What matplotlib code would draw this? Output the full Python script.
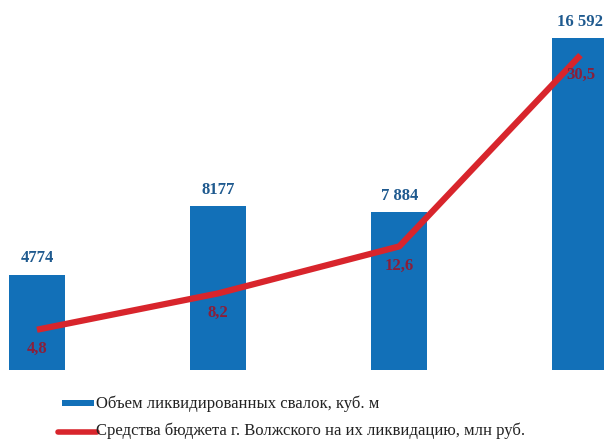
import matplotlib.pyplot as plt
from matplotlib.patches import Rectangle
from matplotlib.lines import Line2D

plt.rcParams['font.family'] = ['Liberation Serif', 'DejaVu Serif']

# объемы и затраты по годам
periods = ['1', '2', '3', '4']
volume = [4774, 8177, 7884, 16592]
volume_labels = ['4774', '8177', '7 884', '16 592']
budget = [4.8, 8.2, 12.6, 30.5]
budget_labels = ['4,8', '8,2', '12,6', '30,5']
legend_labels = ['Объем ликвидированных свалок, куб. м',
                 'Средства бюджета г. Волжского на их ликвидацию, млн руб.']

bar_color = '#1270b8'
line_color = '#d8252c'

W, H = 604, 440
fig = plt.figure(figsize=(W / 100, H / 100), dpi=100)
ax = fig.add_axes([0, 70 / H, 1, 370 / H])
ax2 = ax.twinx()

x = list(range(len(periods)))
ax.bar(x, volume, width=0.31, color=bar_color, zorder=1)
for xi, v, lab in zip(x, volume, volume_labels):
    ax.annotate(lab, (xi, v), xytext=(0, 6), textcoords='offset points',
                ha='center', va='bottom', fontsize=12, fontweight='bold',
                color='#1f5a8f')

ax2.plot(x, budget, color=line_color, linewidth=4.5, solid_capstyle='butt', zorder=3)
for xi, v, lab in zip(x, budget, budget_labels):
    ax2.annotate(lab, (xi, v), xytext=(0, -14), textcoords='offset points',
                 ha='center', va='center', fontsize=12, fontweight='bold',
                 color='#8a1f3a')

ax.set_xlim(-0.204, 3.13)
ax.set_ylim(0, 18500)
ax2.set_ylim(1.03, 35.66)
for a in (ax, ax2):
    a.axis('off')
ax.set_zorder(1)
ax2.set_zorder(2)
ax2.patch.set_visible(False)

# легенда снизу, вручную в координатах фигуры
fig.add_artist(Rectangle((62 / W, 1 - 406 / H), 32 / W, 6 / H,
                         transform=fig.transFigure, facecolor=bar_color,
                         edgecolor='none'))
fig.add_artist(Line2D([58 / W, 97 / W], [1 - 432 / H, 1 - 432 / H],
                      transform=fig.transFigure, color=line_color,
                      linewidth=4, solid_capstyle='round'))
fig.text(96 / W, 1 - 404 / H, legend_labels[0], fontsize=12,
         va='center', ha='left', color='#222222')
fig.text(96 / W, 1 - 431 / H, legend_labels[1], fontsize=12,
         va='center', ha='left', color='#222222')

fig.savefig('out.png', dpi=100)
